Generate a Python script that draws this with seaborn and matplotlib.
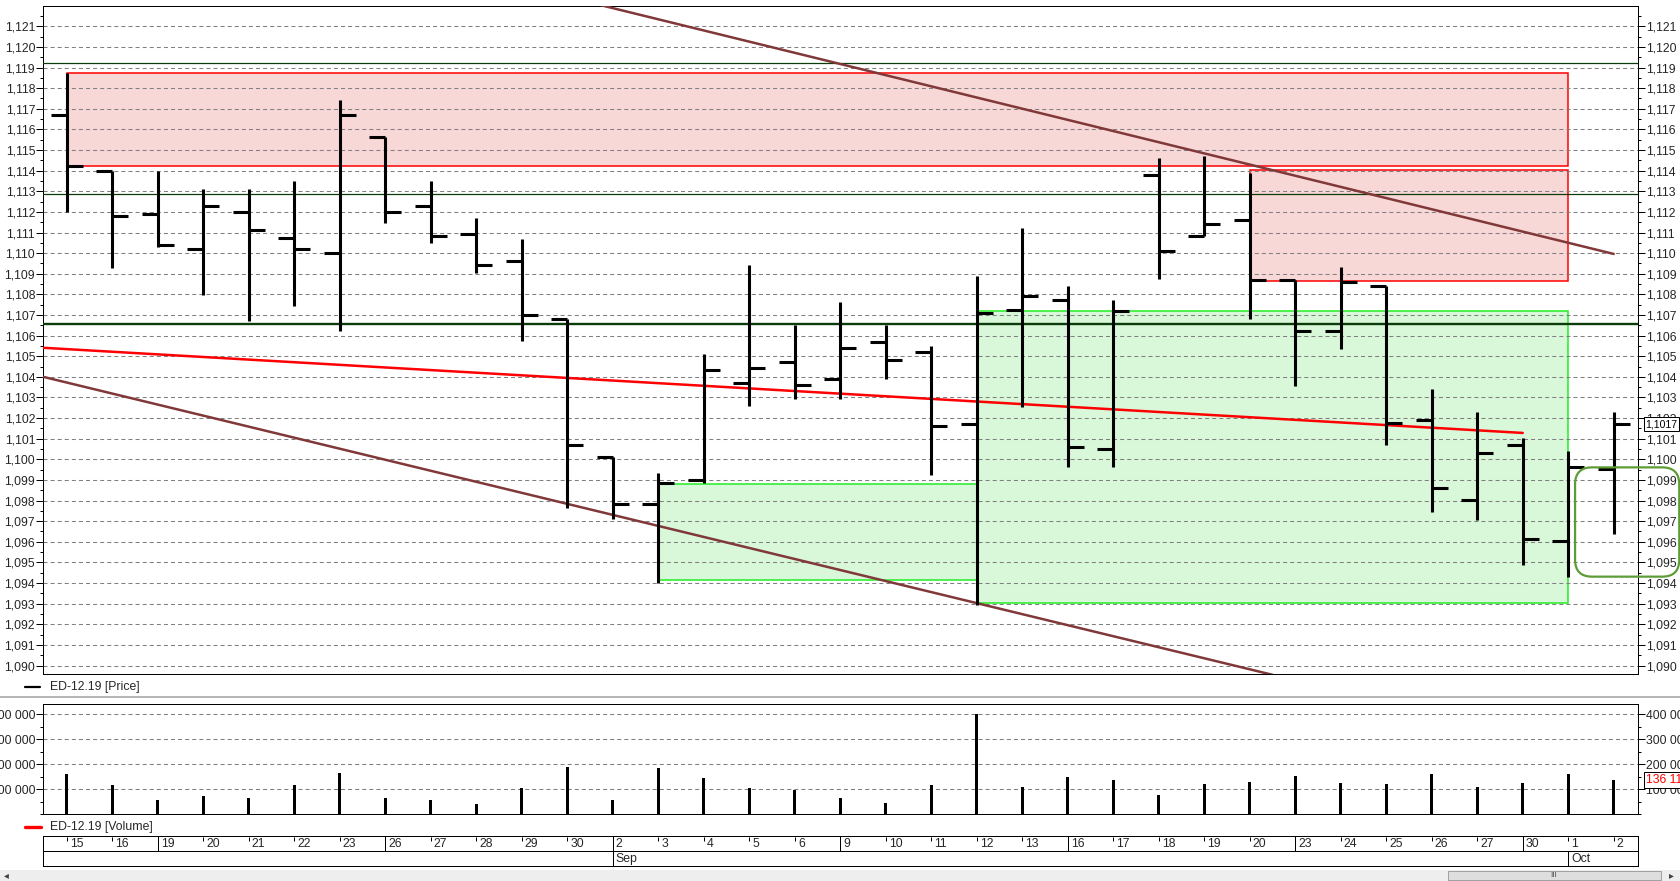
import numpy as np
import pandas as pd
import matplotlib
matplotlib.use("Agg")
import matplotlib.pyplot as plt
import seaborn as sns
from matplotlib import font_manager
from matplotlib.patches import Rectangle, FancyBboxPatch
from matplotlib.transforms import IdentityTransform
from matplotlib.lines import Line2D
from matplotlib.ticker import MultipleLocator, FuncFormatter, FixedLocator

# ---------------- data ----------------
dates = ["2019-08-15", "2019-08-16", "2019-08-19", "2019-08-20", "2019-08-21", "2019-08-22",
         "2019-08-23", "2019-08-26", "2019-08-27", "2019-08-28", "2019-08-29", "2019-08-30",
         "2019-09-02", "2019-09-03", "2019-09-04", "2019-09-05", "2019-09-06", "2019-09-09",
         "2019-09-10", "2019-09-11", "2019-09-12", "2019-09-13", "2019-09-16", "2019-09-17",
         "2019-09-18", "2019-09-19", "2019-09-20", "2019-09-23", "2019-09-24", "2019-09-25",
         "2019-09-26", "2019-09-27", "2019-09-30", "2019-10-01", "2019-10-02"]
open_ = [1.11671, 1.11400, 1.11191, 1.11022, 1.11201, 1.11072, 1.11000, 1.11561, 1.11230, 1.11094,
         1.10963, 1.10681, 1.10013, 1.09785, 1.09900, 1.10372, 1.10472, 1.10391, 1.10569, 1.10520,
         1.10171, 1.10724, 1.10775, 1.10052, 1.11380, 1.11083, 1.11161, 1.10870, 1.10622, 1.10842,
         1.10190, 1.09803, 1.10071, 1.09604, 1.09955]
high = [1.11872, 1.11400, 1.11397, 1.11311, 1.11310, 1.11350, 1.11742, 1.11561, 1.11350, 1.11169,
        1.11067, 1.10681, 1.10013, 1.09932, 1.10511, 1.10942, 1.10653, 1.10763, 1.10653, 1.10550,
        1.10889, 1.11120, 1.10840, 1.10772, 1.11460, 1.11471, 1.11390, 1.10870, 1.10933, 1.10842,
        1.10340, 1.10229, 1.10102, 1.10040, 1.10229]
low = [1.11198, 1.10929, 1.11028, 1.10796, 1.10669, 1.10745, 1.10624, 1.11148, 1.11048, 1.10905,
       1.10575, 1.09763, 1.09710, 1.09399, 1.09887, 1.10260, 1.10291, 1.10291, 1.10388, 1.09922,
       1.09294, 1.10252, 1.09961, 1.09961, 1.10876, 1.11083, 1.10679, 1.10357, 1.10536, 1.10068,
       1.09746, 1.09707, 1.09489, 1.09431, 1.09640]
close = [1.11424, 1.11181, 1.11039, 1.11230, 1.11114, 1.11022, 1.11671, 1.11200, 1.11083, 1.10942,
         1.10700, 1.10070, 1.09785, 1.09884, 1.10433, 1.10443, 1.10362, 1.10541, 1.10482, 1.10162,
         1.10711, 1.10794, 1.10060, 1.10721, 1.11012, 1.11141, 1.10870, 1.10622, 1.10859, 1.10178,
         1.09862, 1.10030, 1.09615, 1.09964, 1.10171]
volume = [161000, 119000, 59000, 75000, 67000, 119000, 167000, 67000, 59000, 43000, 107000, 189000,
          59000, 187000, 144000, 104000, 96000, 64000, 45000, 119000, 403000, 111000, 151000, 139000,
          79000, 123000, 131000, 155000, 127000, 123000, 163000, 111000, 127000, 163000, 136110]

# drawing objects (in bar-index / price units)
upper_trend_x = [11.6, 34.0]
upper_trend_y = [1.1221, 1.10996]
lower_trend_x = [-0.514, 26.5]
lower_trend_y = [1.1040, 1.08955]
red_trend_x = [-0.514, 32.0]
red_trend_y = [1.10541, 1.10128]
resist_boxes = [(0, 33, 1.11422, 1.11872), (26, 33, 1.10865, 1.11402)]
support_boxes = [(13, 20, 1.09416, 1.09878), (20, 33, 1.09305, 1.10717)]
level_thin = [1.11921, 1.11287]
level_thick = [1.10658]
focus_box = (33.15, 35.44, 1.09431, 1.09961)

legend_price = "ED-12.19 [Price]"
legend_volume = "ED-12.19 [Volume]"

# ---------------- style ----------------
sns.set_style("white")
try:
    font_manager.findfont("Liberation Sans Narrow", fallback_to_default=False)
    narrow = True
except Exception:
    narrow = False
if narrow:
    plt.rcParams["font.family"] = ["Liberation Sans Narrow", "DejaVu Sans"]
    FS, FS_TAG = 9.5, 9.5
else:
    plt.rcParams["font.family"] = ["Liberation Sans", "DejaVu Sans"]
    FS, FS_TAG = 8.8, 7.6
plt.rcParams["lines.scale_dashes"] = False

W, H = 1680, 881
fig = plt.figure(figsize=(W / 100, H / 100), dpi=100)
fig.patch.set_facecolor("white")


def frac(x0, y0, x1, y1):
    return [x0 / W, 1 - y1 / H, (x1 - x0) / W, (y1 - y0) / H]


XL, XR = 43.3, 1638.3
ax = fig.add_axes(frac(XL, 6, XR, 674))
axv = fig.add_axes(frac(XL, 704.3, XR, 814.3))
axd = fig.add_axes(frac(XL, 836, XR, 866))

idx = np.arange(len(dates))
xlim = (-0.514, 34.54)

# ---------------- price panel ----------------
for (x0, x1, y0, y1) in resist_boxes:
    ax.add_patch(Rectangle((x0, y0), x1 - x0, y1 - y0, fc="#f8d7d7", ec="#ff0000", lw=1.1, zorder=1))
for (x0, x1, y0, y1) in support_boxes:
    ax.add_patch(Rectangle((x0, y0), x1 - x0, y1 - y0, fc="#d9f7d9", ec="#22ee22", lw=1.1, zorder=1))

for lv in level_thin:
    ax.axhline(lv, color="#0b3d0b", lw=0.9, zorder=2.6)
for lv in level_thick:
    ax.axhline(lv, color="#0b3d0b", lw=1.7, zorder=2.6)

sns.lineplot(x=upper_trend_x, y=upper_trend_y, ax=ax, color="#803838", lw=1.8, zorder=3)
sns.lineplot(x=lower_trend_x, y=lower_trend_y, ax=ax, color="#803838", lw=1.8, zorder=3)
sns.lineplot(x=red_trend_x, y=red_trend_y, ax=ax, color="#ff0000", lw=1.8, zorder=3)

tick = 0.35
ax.vlines(idx, low, high, color="black", lw=2.2, zorder=4)
ax.hlines(open_, idx - tick, idx, color="black", lw=2.2, zorder=4)
ax.hlines(close, idx, idx + tick, color="black", lw=2.2, zorder=4)

ax.set_xlim(*xlim)
ax.set_ylim(1.089589, 1.121985)
ax.yaxis.set_major_locator(MultipleLocator(0.001))
ax.yaxis.set_minor_locator(MultipleLocator(0.0005))
ax.yaxis.set_major_formatter(FuncFormatter(lambda v, p: f"{v:.3f}".replace(".", ",")))
ax.set_axisbelow(False)
ax.grid(axis="y", which="major", color="#808080", lw=0.75, ls=(0, (2.9, 2.2)), zorder=2.5)
ax.grid(axis="x", visible=False)
ax.tick_params(axis="y", which="both", left=True, right=True, labelleft=True, labelright=True,
               direction="out", width=0.72, labelsize=FS, pad=1, color="black")
ax.tick_params(axis="y", which="major", length=4.8)
ax.tick_params(axis="y", which="minor", length=2.4)
ax.tick_params(axis="x", which="both", bottom=False, labelbottom=False)
ax.set_xlabel("")
ax.set_ylabel("")
for s in ax.spines.values():
    s.set_visible(True)
    s.set_color("black")
    s.set_linewidth(0.72)

ax.annotate(f"{close[-1]:.4f}".replace(".", ","), xy=(1, close[-1]),
            xycoords=("axes fraction", "data"), xytext=(5.2, 0), textcoords="offset points",
            va="center", ha="left", fontsize=FS_TAG, color="black",
            bbox=dict(boxstyle="square,pad=0.15", fc="white", ec="black", lw=0.72),
            annotation_clip=False, zorder=10)

# ---------------- volume panel ----------------
sns.barplot(x=idx, y=volume, ax=axv, native_scale=True, width=0.066, color="black",
            saturation=1, linewidth=0, errorbar=None, zorder=4)
axv.set_xlim(*xlim)
axv.set_ylim(0, 440000)
axv.yaxis.set_major_locator(FixedLocator([100000, 200000, 300000, 400000]))
axv.yaxis.set_minor_locator(MultipleLocator(50000))
axv.yaxis.set_major_formatter(FuncFormatter(lambda v, p: f"{int(v):,}".replace(",", " ")))
axv.set_axisbelow(False)
axv.grid(axis="y", which="major", color="#808080", lw=0.75, ls=(0, (2.9, 2.2)), zorder=2.5)
axv.grid(axis="x", visible=False)
axv.tick_params(axis="y", which="both", left=True, right=True, labelleft=True, labelright=True,
                direction="out", width=0.72, labelsize=FS, pad=1, color="black")
axv.tick_params(axis="y", which="major", length=4.8)
axv.tick_params(axis="y", which="minor", length=2.4)
axv.tick_params(axis="x", which="both", bottom=False, labelbottom=False)
axv.set_xlabel("")
axv.set_ylabel("")
for s in axv.spines.values():
    s.set_visible(True)
    s.set_color("black")
    s.set_linewidth(0.72)
axv.annotate(f"{volume[-1]:,}".replace(",", " "), xy=(1, volume[-1]),
             xycoords=("axes fraction", "data"), xytext=(5.2, 0), textcoords="offset points",
             va="center", ha="left", fontsize=FS, color="#ff0000",
             bbox=dict(boxstyle="square,pad=0.15", fc="white", ec="black", lw=0.72),
             annotation_clip=False, zorder=10)

# ---------------- date axis ----------------
dt = pd.to_datetime(dates)
axd.set_xlim(*xlim)
axd.set_ylim(30, 0)
axd.set_xticks([])
axd.set_yticks([])
for s in axd.spines.values():
    s.set_visible(True)
    s.set_color("black")
    s.set_linewidth(0.72)
axd.axhline(15.3, color="black", lw=0.72)
prev_month = None
for i, d in enumerate(dt):
    if d.dayofweek == 0:
        axd.vlines(i, 0, 15.3, color="black", lw=0.72)
    else:
        axd.vlines(i, 0.8, 4.5, color="black", lw=0.72)
    axd.text(i + 0.07, 7.9, str(d.day), fontsize=FS, ha="left", va="center")
    if prev_month is not None and d.month != prev_month:
        axd.vlines(i, 15.3, 30, color="black", lw=0.72)
        axd.text(i + 0.07, 22.8, d.strftime("%b"), fontsize=FS, ha="left", va="center")
    prev_month = d.month

# ---------------- legends / frame decorations ----------------
fig.add_artist(Line2D([24.9 / W, 40.2 / W], [1 - 687 / H] * 2, color="black", lw=1.6))
fig.text(50.5 / W, 1 - 687 / H, legend_price, fontsize=FS, va="center", ha="left")
fig.add_artist(Line2D([0, 1], [1 - 696.7 / H] * 2, color="#a8a8a8", lw=1.2))
fig.add_artist(Line2D([24.9 / W, 41.3 / W], [1 - 826.7 / H] * 2, color="#ff0000", lw=2.4))
fig.text(50.5 / W, 1 - 826.7 / H, legend_volume, fontsize=FS, va="center", ha="left")

# scrollbar strip
fig.add_artist(Rectangle((0, 0), 1, 11 / H, transform=fig.transFigure, fc="#eeeeee", ec="none"))
fig.add_artist(Rectangle((1447.5 / W, 1 / H), (1661 - 1447.5) / W, 9 / H, transform=fig.transFigure,
                         fc="#dedede", ec="#a0a0a0", lw=0.7))
fig.text(1554 / W, 5.5 / H, "III", fontsize=6, ha="center", va="center", color="#505050")
fig.text(6 / W, 5.5 / H, "\u25c2", fontsize=7, ha="center", va="center", color="#404040",
         family="DejaVu Sans")
fig.text(1671 / W, 5.5 / H, "\u25b8", fontsize=7, ha="center", va="center", color="#404040",
         family="DejaVu Sans")

# focus rounded box (data coords -> pixels)
(fx0, fx1, fy0, fy1) = focus_box
p0 = ax.transData.transform((fx0, fy0))
p1 = ax.transData.transform((fx1, fy1))
fig.add_artist(FancyBboxPatch((p0[0], p0[1]), p1[0] - p0[0], p1[1] - p0[1],
                              boxstyle="round,pad=0,rounding_size=17", transform=IdentityTransform(),
                              fill=False, ec="#5e9c36", lw=1.6, clip_on=False, zorder=20))

fig.savefig("out.png", dpi=100)
